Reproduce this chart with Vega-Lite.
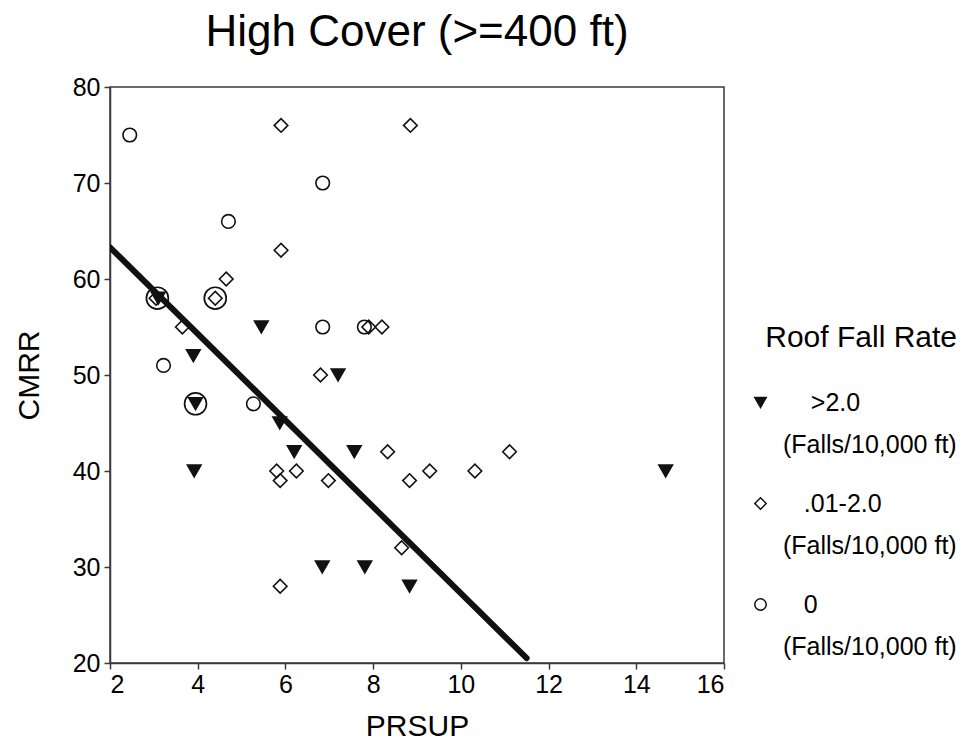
{
  "$schema": "https://vega.github.io/schema/vega-lite/v6.json",
  "background": "white",
  "padding": {"left": 14, "top": 11, "right": 0, "bottom": 0},
  "width": 614,
  "height": 576,
  "title": {
    "text": "High Cover (>=400 ft)",
    "fontSize": 44,
    "fontWeight": "normal",
    "color": "black",
    "offset": 20,
    "anchor": "middle"
  },
  "datasets": {
    "mines": [
      {"prsup": 3.1, "cmrr": 58, "rate": ">2.0"},
      {"prsup": 5.45, "cmrr": 55, "rate": ">2.0"},
      {"prsup": 3.9, "cmrr": 52, "rate": ">2.0"},
      {"prsup": 7.2, "cmrr": 50, "rate": ">2.0"},
      {"prsup": 3.95, "cmrr": 47, "rate": ">2.0"},
      {"prsup": 5.87, "cmrr": 45, "rate": ">2.0"},
      {"prsup": 6.2, "cmrr": 42, "rate": ">2.0"},
      {"prsup": 7.57, "cmrr": 42, "rate": ">2.0"},
      {"prsup": 3.92, "cmrr": 40, "rate": ">2.0"},
      {"prsup": 14.67, "cmrr": 40, "rate": ">2.0"},
      {"prsup": 6.84, "cmrr": 30, "rate": ">2.0"},
      {"prsup": 7.81, "cmrr": 30, "rate": ">2.0"},
      {"prsup": 8.83, "cmrr": 28, "rate": ">2.0"},
      {"prsup": 5.9, "cmrr": 76, "rate": ".01-2.0"},
      {"prsup": 8.85, "cmrr": 76, "rate": ".01-2.0"},
      {"prsup": 5.9, "cmrr": 63, "rate": ".01-2.0"},
      {"prsup": 4.65, "cmrr": 60, "rate": ".01-2.0"},
      {"prsup": 3.05, "cmrr": 58, "rate": ".01-2.0"},
      {"prsup": 4.4, "cmrr": 58, "rate": ".01-2.0"},
      {"prsup": 3.65, "cmrr": 55, "rate": ".01-2.0"},
      {"prsup": 7.9, "cmrr": 55, "rate": ".01-2.0"},
      {"prsup": 8.2, "cmrr": 55, "rate": ".01-2.0"},
      {"prsup": 6.8, "cmrr": 50, "rate": ".01-2.0"},
      {"prsup": 8.33, "cmrr": 42, "rate": ".01-2.0"},
      {"prsup": 11.11, "cmrr": 42, "rate": ".01-2.0"},
      {"prsup": 5.8, "cmrr": 40, "rate": ".01-2.0"},
      {"prsup": 6.25, "cmrr": 40, "rate": ".01-2.0"},
      {"prsup": 9.29, "cmrr": 40, "rate": ".01-2.0"},
      {"prsup": 10.32, "cmrr": 40, "rate": ".01-2.0"},
      {"prsup": 5.88, "cmrr": 39, "rate": ".01-2.0"},
      {"prsup": 6.98, "cmrr": 39, "rate": ".01-2.0"},
      {"prsup": 8.83, "cmrr": 39, "rate": ".01-2.0"},
      {"prsup": 8.65, "cmrr": 32, "rate": ".01-2.0"},
      {"prsup": 5.88, "cmrr": 28, "rate": ".01-2.0"},
      {"prsup": 2.45, "cmrr": 75, "rate": "0"},
      {"prsup": 6.85, "cmrr": 70, "rate": "0"},
      {"prsup": 4.7, "cmrr": 66, "rate": "0"},
      {"prsup": 6.85, "cmrr": 55, "rate": "0"},
      {"prsup": 7.8, "cmrr": 55, "rate": "0"},
      {"prsup": 3.22, "cmrr": 51, "rate": "0"},
      {"prsup": 5.27, "cmrr": 47, "rate": "0"}
    ],
    "circled": [
      {"prsup": 3.08, "cmrr": 58},
      {"prsup": 4.4, "cmrr": 58},
      {"prsup": 3.95, "cmrr": 47}
    ],
    "fit": [
      {"prsup": 2.0, "cmrr": 63.3},
      {"prsup": 11.5, "cmrr": 20.5}
    ]
  },
  "encoding": {
    "x": {
      "field": "prsup",
      "type": "quantitative",
      "scale": {"domain": [2, 16], "nice": false, "zero": false},
      "axis": {"values": [2, 4, 6, 8, 10, 12, 14, 16], "title": "PRSUP", "titlePadding": 14, "labelPadding": 3}
    },
    "y": {
      "field": "cmrr",
      "type": "quantitative",
      "scale": {"domain": [20, 80], "nice": false, "zero": false},
      "axis": {"values": [20, 30, 40, 50, 60, 70, 80], "title": "CMRR", "titlePadding": 28, "labelPadding": 4}
    }
  },
  "layer": [
    {
      "data": {"name": "fit"},
      "mark": {"type": "line", "color": "#111", "strokeWidth": 6, "strokeCap": "round", "clip": true}
    },
    {
      "data": {"name": "circled"},
      "mark": {"type": "point", "shape": "circle", "size": 480, "stroke": "#111", "strokeWidth": 1.7, "fill": "transparent", "opacity": 1}
    },
    {
      "data": {"name": "mines"},
      "mark": {"type": "point", "size": 185, "strokeWidth": 1.6, "opacity": 1},
      "encoding": {
        "shape": {
          "field": "rate",
          "type": "nominal",
          "scale": {"domain": [">2.0", ".01-2.0", "0"], "range": ["triangle-down", "diamond", "circle"]},
          "legend": {
            "title": "Roof Fall Rate",
            "orient": "none",
            "legendX": 638,
            "legendY": 236,
            "titleAnchor": "end",
            "titleLimit": 400,
            "titlePadding": 37,
            "rowPadding": 33,
            "labelOffset": 10,
            "labelBaseline": "middle",
            "labelLimit": 400,
            "symbolSize": 130,
            "labelExpr": "datum.label == '>2.0' ? ['\u200b\u2007\u2007>2.0', '(Falls/10,000 ft)'] : datum.label == '0' ? ['\u200b\u2007\u20080', '(Falls/10,000 ft)'] : ['\u200b\u2007\u2008' + datum.label, '(Falls/10,000 ft)']"
          }
        },
        "fill": {
          "field": "rate",
          "type": "nominal",
          "scale": {"domain": [">2.0", ".01-2.0", "0"], "range": ["#111", "transparent", "transparent"]},
          "legend": {
            "title": "Roof Fall Rate",
            "orient": "none",
            "legendX": 638,
            "legendY": 236,
            "titleAnchor": "end",
            "titleLimit": 400,
            "titlePadding": 37,
            "rowPadding": 33,
            "labelOffset": 10,
            "labelBaseline": "middle",
            "labelLimit": 400,
            "symbolSize": 130,
            "labelExpr": "datum.label == '>2.0' ? ['\u200b\u2007\u2007>2.0', '(Falls/10,000 ft)'] : datum.label == '0' ? ['\u200b\u2007\u20080', '(Falls/10,000 ft)'] : ['\u200b\u2007\u2008' + datum.label, '(Falls/10,000 ft)']"
          }
        },
        "stroke": {
          "field": "rate",
          "type": "nominal",
          "scale": {"domain": [">2.0", ".01-2.0", "0"], "range": ["#111", "#111", "#111"]},
          "legend": {
            "title": "Roof Fall Rate",
            "orient": "none",
            "legendX": 638,
            "legendY": 236,
            "titleAnchor": "end",
            "titleLimit": 400,
            "titlePadding": 37,
            "rowPadding": 33,
            "labelOffset": 10,
            "labelBaseline": "middle",
            "labelLimit": 400,
            "symbolSize": 130,
            "labelExpr": "datum.label == '>2.0' ? ['\u200b\u2007\u2007>2.0', '(Falls/10,000 ft)'] : datum.label == '0' ? ['\u200b\u2007\u20080', '(Falls/10,000 ft)'] : ['\u200b\u2007\u2008' + datum.label, '(Falls/10,000 ft)']"
          }
        }
      }
    }
  ],
  "config": {
    "font": "Liberation Sans",
    "view": {"stroke": "#3a3a3a", "strokeWidth": 1.5},
    "axis": {
      "grid": false,
      "domainColor": "#3a3a3a",
      "domainWidth": 1.5,
      "tickColor": "#3a3a3a",
      "tickWidth": 1.5,
      "tickSize": 6,
      "labelColor": "black",
      "labelFontSize": 25,
      "titleColor": "black",
      "titleFontSize": 30,
      "titleFontWeight": "normal"
    },
    "legend": {
      "titleFontSize": 30,
      "titleFontWeight": "normal",
      "titleColor": "black",
      "labelFontSize": 25,
      "labelColor": "black",
      "symbolStrokeWidth": 1.5,
      "padding": 0
    },
    "style": {"guide-label": {"lineHeight": 42}}
  }
}
